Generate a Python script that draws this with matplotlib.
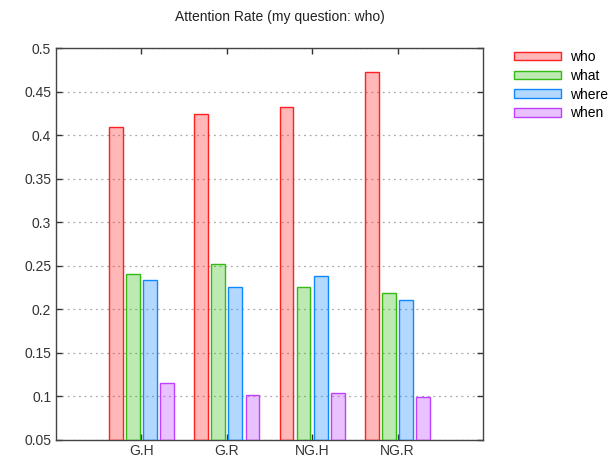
import matplotlib
matplotlib.use("Agg")
import matplotlib.pyplot as plt
import numpy as np

plt.rcParams['font.family'] = ['Liberation Sans', 'DejaVu Sans']

# attention rate per setting, one list per question word
groups = ['G.H', 'G.R', 'NG.H', 'NG.R']
who = [0.410, 0.424, 0.432, 0.473]
what = [0.241, 0.252, 0.226, 0.219]
where = [0.234, 0.225, 0.238, 0.211]
when = [0.115, 0.101, 0.104, 0.099]

series = [('who', who, '#ff2020'),
          ('what', what, '#33bb11'),
          ('where', where, '#1188ff'),
          ('when', when, '#c040ff')]

fig = plt.figure(figsize=(6.14, 4.68), dpi=100)
ax = fig.add_axes([0.0912, 0.0607, 0.6954, 0.8361])

x = np.arange(len(groups))
ymin = 0.05
for i, (name, vals, col) in enumerate(series):
    off = -0.3 + 0.2 * i
    ax.bar(x + off, np.array(vals) - ymin, bottom=ymin, width=0.16,
           facecolor=matplotlib.colors.to_rgba(col, 0.32),
           edgecolor=col, linewidth=1.0, label=name, zorder=3)

ax.set_xlim(-1, 4)
ax.set_ylim(0.05, 0.5)
ax.set_xticks(x)
ax.set_xticklabels(groups)
yt = np.arange(0.05, 0.501, 0.05)
ax.set_yticks(yt)
ax.set_yticklabels(['%g' % round(v, 2) for v in yt])
ax.yaxis.grid(True, linestyle=(0, (1.5, 3)), color='#aaaaaa', linewidth=0.9, zorder=0)
ax.tick_params(direction='in', length=4, top=True, right=True,
               labelsize=10, colors='#333333', width=1)
for s in ax.spines.values():
    s.set_color('#444444')
    s.set_linewidth(1.0)

fig.text(0.456, 0.963, 'Attention Rate (my question: who)', ha='center',
         va='center', fontsize=10, color='#222222')

ax.legend(loc='upper left', bbox_to_anchor=(1.043, 1.028), frameon=False,
          fontsize=10, handlelength=3.4, handleheight=0.55,
          labelspacing=0.35, handletextpad=0.65)

fig.savefig('out.png', dpi=100)
